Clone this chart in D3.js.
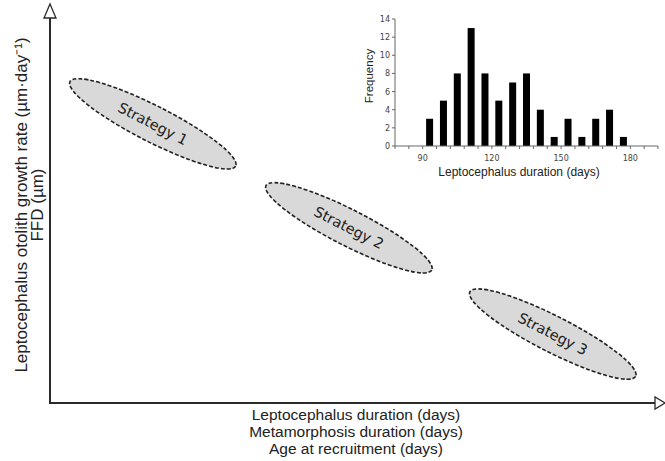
<!DOCTYPE html>
<html><head><meta charset="utf-8">
<script src="https://cdn.jsdelivr.net/npm/d3@7"></script>
<style>body{margin:0;background:#fff}svg{display:block}</style>
</head><body>
<svg id="c" width="665" height="461"></svg>
<script>
// Conceptual strategies (abstract axis units 0-100)
const strategyNames = ["Strategy 1", "Strategy 2", "Strategy 3"];
const strategyDuration = [17, 49.4, 83.1];
const strategyGrowth = [72.5, 45.5, 17.9];
// Inset histogram
const binCenters = [93, 99, 105, 111, 117, 123, 129, 135, 141, 147, 153, 159, 165, 171, 177];
const frequencies = [3, 5, 8, 13, 8, 5, 7, 8, 4, 1, 3, 1, 3, 4, 1];
const insetXTickLabels = [90, 120, 150, 180];
const insetYTicks = [0, 2, 4, 6, 8, 10, 12, 14];
const xLabels = ["Leptocephalus duration (days)", "Metamorphosis duration (days)", "Age at recruitment (days)"];
const yLabels = ["Leptocephalus otolith growth rate (\u00b5m\u00b7day\u207b\u00b9)", "FFD (\u00b5m)"];

const svg = d3.select("#c");
const font = "Liberation Sans, Arial, sans-serif";
const axisCol = "#2a2a2a";

// main scales
const x = d3.scaleLinear().domain([0, 100]).range([50, 655]);
const y = d3.scaleLinear().domain([0, 100]).range([403, 18]);

// axes lines
svg.append("line").attr("x1", x(0)).attr("x2", x(100)).attr("y1", y(0)).attr("y2", y(0))
  .attr("stroke", axisCol).attr("stroke-width", 2);
svg.append("line").attr("x1", x(0)).attr("x2", x(0)).attr("y1", y(0)+1).attr("y2", y(100))
  .attr("stroke", axisCol).attr("stroke-width", 2);
// open arrowheads
const ay = y(100), ax = x(0);
svg.append("path").attr("d", `M${ax},${ay-14} L${ax+6},${ay} L${ax-6},${ay} Z`)
  .attr("fill", "#fff").attr("stroke", axisCol).attr("stroke-width", 1.3);
const rx = x(100), ry = y(0);
svg.append("path").attr("d", `M${rx+10},${ry} L${rx},${ry-6} L${rx},${ry+6} Z`)
  .attr("fill", "#fff").attr("stroke", axisCol).attr("stroke-width", 1.3);

// axis titles
svg.append("g").selectAll("text").data(xLabels).join("text")
  .attr("x", 356).attr("y", (d, i) => 420 + i * 17)
  .attr("text-anchor", "middle").attr("font-family", font).attr("font-size", 15.5)
  .attr("fill", "#222").text(d => d);
svg.append("g").selectAll("text").data(yLabels).join("text")
  .attr("transform", (d, i) => `translate(${27 + i * 16},205) rotate(-90)`)
  .attr("text-anchor", "middle").attr("font-family", font).attr("font-size", 17)
  .attr("fill", "#222").text(d => d);

// strategies
const angle = 27;
const sg = svg.append("g").selectAll("g").data(strategyNames).join("g")
  .attr("transform", (d, i) => `translate(${x(strategyDuration[i])},${y(strategyGrowth[i])}) rotate(${angle})`);
sg.append("ellipse").attr("rx", 93).attr("ry", 18)
  .attr("fill", "#d9d9d9").attr("stroke", "#222").attr("stroke-width", 1.6)
  .attr("stroke-dasharray", "4,2");
sg.append("text").attr("text-anchor", "middle").attr("dy", 5)
  .attr("font-family", "DejaVu Sans, Verdana, sans-serif").attr("font-size", 14.5)
  .attr("fill", "#222").text(d => d);

// inset histogram
const ix = d3.scaleLinear().domain([78, 192]).range([395, 658]);
const iy = d3.scaleLinear().domain([0, 14]).range([146, 19]);
const inset = svg.append("g");
inset.selectAll("rect").data(frequencies).join("rect")
  .attr("x", (d, i) => ix(binCenters[i]) - 3.5).attr("width", 7)
  .attr("y", d => iy(d)).attr("height", d => iy(0) - iy(d)).attr("fill", "#000");
const insCol = "#666";
inset.append("line").attr("x1", ix(78)).attr("x2", ix(192)).attr("y1", iy(0)).attr("y2", iy(0))
  .attr("stroke", insCol).attr("stroke-width", 1);
inset.append("line").attr("x1", ix(78)).attr("x2", ix(78)).attr("y1", iy(0)).attr("y2", iy(14))
  .attr("stroke", insCol).attr("stroke-width", 1);
inset.selectAll(".xt").data(d3.range(78, 193, 6)).join("line")
  .attr("x1", d => ix(d)).attr("x2", d => ix(d)).attr("y1", iy(0)).attr("y2", iy(0) + 3)
  .attr("stroke", insCol);
inset.selectAll(".yt").data(insetYTicks).join("line")
  .attr("x1", ix(78) - 3).attr("x2", ix(78)).attr("y1", d => iy(d)).attr("y2", d => iy(d))
  .attr("stroke", insCol);
inset.selectAll(".xl").data(insetXTickLabels).join("text")
  .attr("x", d => ix(d)).attr("y", 161).attr("text-anchor", "middle")
  .attr("font-family", "DejaVu Sans, Verdana, sans-serif").attr("font-size", 8).attr("fill", "#444").text(d => d);
inset.selectAll(".yl").data(insetYTicks).join("text")
  .attr("x", ix(78) - 5).attr("y", d => iy(d) + 3).attr("text-anchor", "end")
  .attr("font-family", "DejaVu Sans, Verdana, sans-serif").attr("font-size", 8).attr("fill", "#444").text(d => d);
inset.append("text").attr("x", 519).attr("y", 176).attr("text-anchor", "middle")
  .attr("font-family", font).attr("font-size", 12).attr("fill", "#222").text("Leptocephalus duration (days)");
inset.append("text").attr("transform", "translate(373,76) rotate(-90)").attr("text-anchor", "middle")
  .attr("font-family", font).attr("font-size", 11.5).attr("fill", "#222").text("Frequency");
</script>
</body></html>
